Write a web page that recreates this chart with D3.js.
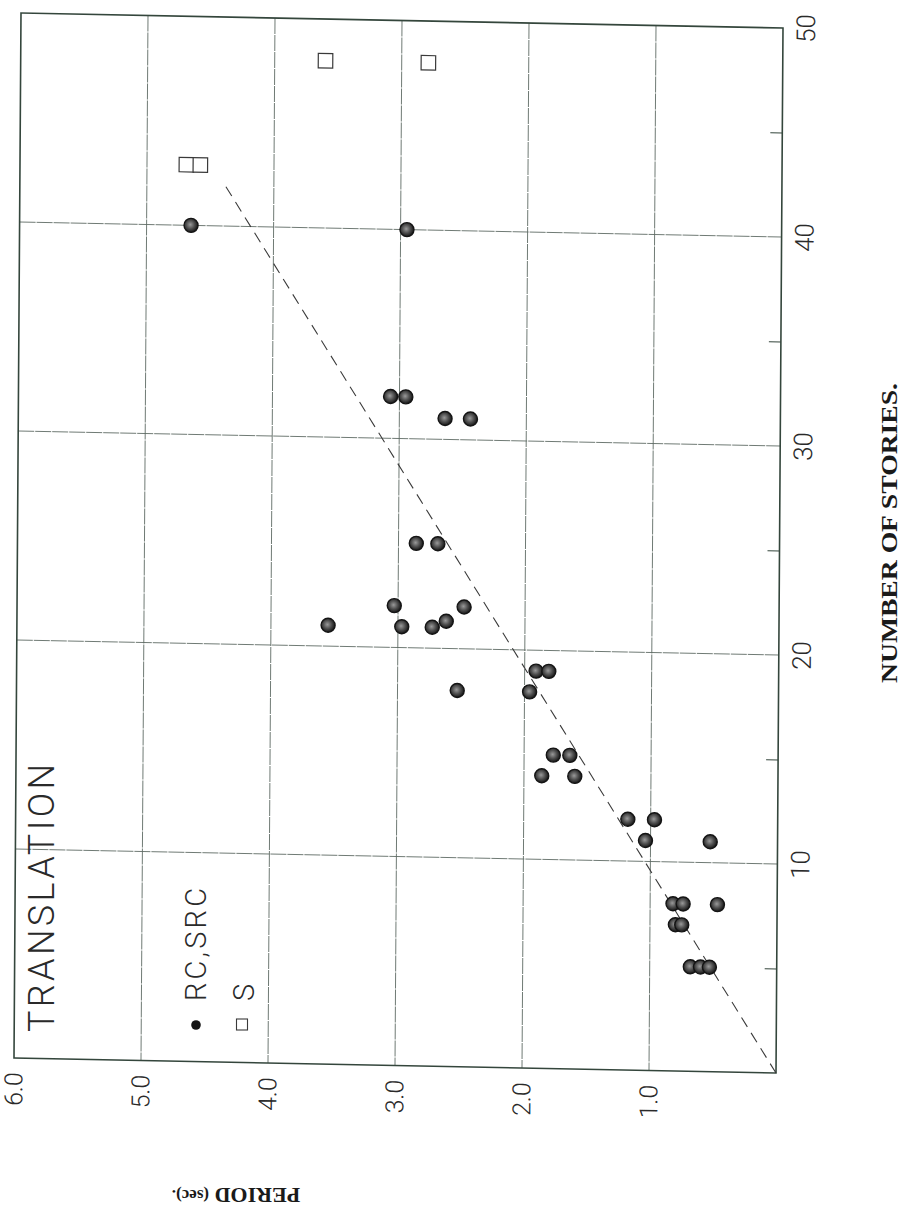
<!DOCTYPE html>
<html>
<head>
<meta charset="utf-8">
<script src="https://cdn.jsdelivr.net/npm/d3@7"></script>
<style>
  html, body { margin: 0; padding: 0; background: #fff; }
  svg { display: block; }
</style>
</head>
<body>
<svg id="chart" width="908" height="1218"></svg>
<script>
// Reinforced-concrete and steel-reinforced-concrete buildings (RC, SRC)
const rcPeriod  = [4.65, 2.95, 3.07, 2.95, 2.64, 2.44, 2.86, 2.69, 3.03, 2.48, 3.55, 2.97, 2.73, 2.62,
                   2.53, 1.91, 1.81, 1.96, 1.77, 1.64, 1.86, 1.60, 1.18, 0.97, 1.04, 0.53,
                   0.82, 0.74, 0.47, 0.80, 0.75, 0.68, 0.60, 0.53];
const rcStories = [40, 40, 32, 32, 31, 31, 25, 25, 22, 22, 21, 21, 21, 21.3,
                   18, 19, 19, 18, 15, 15, 14, 14, 12, 12, 11, 11,
                   8, 8, 8, 7, 7, 5, 5, 5];

// Steel buildings (S)
const sPeriod  = [4.69, 4.58, 3.60, 2.79];
const sStories = [42.9, 42.9, 48, 48];

// Dashed trend line
const trendPeriod  = [0, 4.40];
const trendStories = [0, 42.1];

// Axes
const periodTicks      = [1, 2, 3, 4, 5, 6];
const periodTickLabels = ["1.0", "2.0", "3.0", "4.0", "5.0", "6.0"];
const storyTicks       = [10, 20, 30, 40, 50];
const storyTickLabels  = ["10", "20", "30", "40", "50"];
const storyMinorTicks  = [5, 15, 25, 35, 45];

const svg = d3.select("#chart");
const W = 762, H = 1045;
const sansFont = "Roboto, 'Liberation Sans', Arial, sans-serif";
const serifFont = "'Liberation Serif', 'Times New Roman', serif";
const ink = "#2a2a2a";
const frameColor = "#34463c";
const gridColor = "#5f6b65";

const defs = svg.append("defs");
const grad = defs.append("radialGradient").attr("id", "dotFill")
  .attr("cx", "45%").attr("cy", "45%").attr("r", "55%");
grad.append("stop").attr("offset", "0%").attr("stop-color", "#9a9a9a");
grad.append("stop").attr("offset", "55%").attr("stop-color", "#4d4d4d");
grad.append("stop").attr("offset", "100%").attr("stop-color", "#161616");

// Period runs right-to-left, stories bottom-to-top (page is turned sideways)
const x = d3.scaleLinear().domain([0, 6]).range([W, 0]);
const y = d3.scaleLinear().domain([0, 50]).range([H, 0]);

// The printed sheet sits slightly askew on the page
const plot = svg.append("g")
  .attr("transform", "matrix(1,0.0197,-0.0067,1,21,13)");

// Grid
plot.append("g").selectAll("line")
  .data(periodTicks.filter(d => d < 6)).join("line")
  .attr("x1", d => x(d)).attr("x2", d => x(d))
  .attr("y1", 0).attr("y2", H)
  .attr("stroke", gridColor).attr("stroke-width", 0.9)
  .attr("stroke-dasharray", "16,1");

plot.append("g").selectAll("line")
  .data(storyTicks.filter(d => d < 50)).join("line")
  .attr("x1", 0).attr("x2", W)
  .attr("y1", d => y(d)).attr("y2", d => y(d))
  .attr("stroke", gridColor).attr("stroke-width", 0.9)
  .attr("stroke-dasharray", "16,1");

// Minor story ticks, pointing inward from the right edge
const minorAxis = d3.axisLeft(y).tickValues(storyMinorTicks).tickSize(12).tickFormat("");
const minorG = plot.append("g").attr("transform", `translate(${W},0)`).call(minorAxis);
minorG.select(".domain").remove();
minorG.selectAll("line").attr("stroke", frameColor).attr("stroke-width", 1.1);

// Frame
plot.append("rect")
  .attr("x", 0).attr("y", 0).attr("width", W).attr("height", H)
  .attr("fill", "none").attr("stroke", frameColor).attr("stroke-width", 1.6);

// Trend line
plot.append("path")
  .datum(d3.range(trendPeriod.length))
  .attr("d", d3.line().x(i => x(trendPeriod[i])).y(i => y(trendStories[i])))
  .attr("fill", "none").attr("stroke", "#3a3a3a").attr("stroke-width", 1.1)
  .attr("stroke-dasharray", "11,7");

// Steel buildings: open squares
const sq = 14.5;
plot.append("g").selectAll("rect")
  .data(d3.range(sPeriod.length)).join("rect")
  .attr("x", i => x(sPeriod[i]) - sq / 2)
  .attr("y", i => y(sStories[i]) - sq / 2)
  .attr("width", sq).attr("height", sq)
  .attr("fill", "#fff").attr("stroke", "#3a3a3a").attr("stroke-width", 1.2);

// RC / SRC buildings: filled dots
plot.append("g").selectAll("circle")
  .data(d3.range(rcPeriod.length)).join("circle")
  .attr("cx", i => x(rcPeriod[i]))
  .attr("cy", i => y(rcStories[i]))
  .attr("r", 7)
  .attr("fill", "url(#dotFill)")
  .attr("stroke", "#141414").attr("stroke-width", 1.4);

// Story tick labels (right edge), reading upward
plot.append("g").selectAll("text")
  .data(d3.range(storyTicks.length)).join("text")
  .attr("transform", i => `translate(${W + 23},${y(storyTicks[i])}) rotate(-90)`)
  .attr("text-anchor", "middle").attr("dominant-baseline", "central")
  .attr("font-family", sansFont).attr("font-weight", 300)
  .attr("font-size", 26).attr("fill", ink)
  .text(i => storyTickLabels[i]);

// Period tick labels (bottom edge), reading upward
plot.append("g").selectAll("text")
  .data(d3.range(periodTicks.length)).join("text")
  .attr("transform", i => `translate(${x(periodTicks[i])},${H + 31}) rotate(-90)`)
  .attr("text-anchor", "middle").attr("dominant-baseline", "central")
  .attr("font-family", sansFont).attr("font-weight", 300)
  .attr("font-size", 25).attr("fill", ink)
  .text(i => periodTickLabels[i]);

// Title
svg.append("text")
  .attr("transform", "translate(42,1032) rotate(-90)")
  .attr("dominant-baseline", "central")
  .attr("font-family", sansFont).attr("font-weight", 300)
  .attr("font-size", 36).attr("fill", ink)
  .attr("textLength", 268).attr("lengthAdjust", "spacing")
  .text("TRANSLATION");

// Legend
svg.append("circle").attr("cx", 196).attr("cy", 1025).attr("r", 4.8).attr("fill", "#151515");
svg.append("text")
  .attr("transform", "translate(196,1001) rotate(-90)")
  .attr("dominant-baseline", "central")
  .attr("font-family", sansFont).attr("font-weight", 300)
  .attr("font-size", 29).attr("fill", ink)
  .attr("textLength", 113).attr("lengthAdjust", "spacing")
  .text("RC,SRC");
svg.append("rect").attr("x", 236.5).attr("y", 1019).attr("width", 11).attr("height", 11)
  .attr("fill", "#fff").attr("stroke", "#3a3a3a").attr("stroke-width", 1.1);
svg.append("text")
  .attr("transform", "translate(244,1001) rotate(-90)")
  .attr("dominant-baseline", "central")
  .attr("font-family", sansFont).attr("font-weight", 300)
  .attr("font-size", 29).attr("fill", ink)
  .text("S");

// Axis titles
svg.append("text")
  .attr("transform", "translate(889,533) rotate(-90)")
  .attr("text-anchor", "middle").attr("dominant-baseline", "central")
  .attr("font-family", serifFont).attr("font-weight", "bold")
  .attr("font-size", 24).attr("fill", "#1a1a1a")
  .attr("textLength", 300).attr("lengthAdjust", "spacingAndGlyphs")
  .text("NUMBER OF STORIES.");

const pLabel = svg.append("text")
  .attr("transform", "translate(236,1196) rotate(180)")
  .attr("text-anchor", "middle").attr("dominant-baseline", "central")
  .attr("font-family", serifFont).attr("font-weight", "bold")
  .attr("fill", "#1a1a1a");
pLabel.append("tspan").attr("font-size", 22).text("PERIOD ");
pLabel.append("tspan").attr("font-size", 17).text("(sec).");
</script>
</body>
</html>
